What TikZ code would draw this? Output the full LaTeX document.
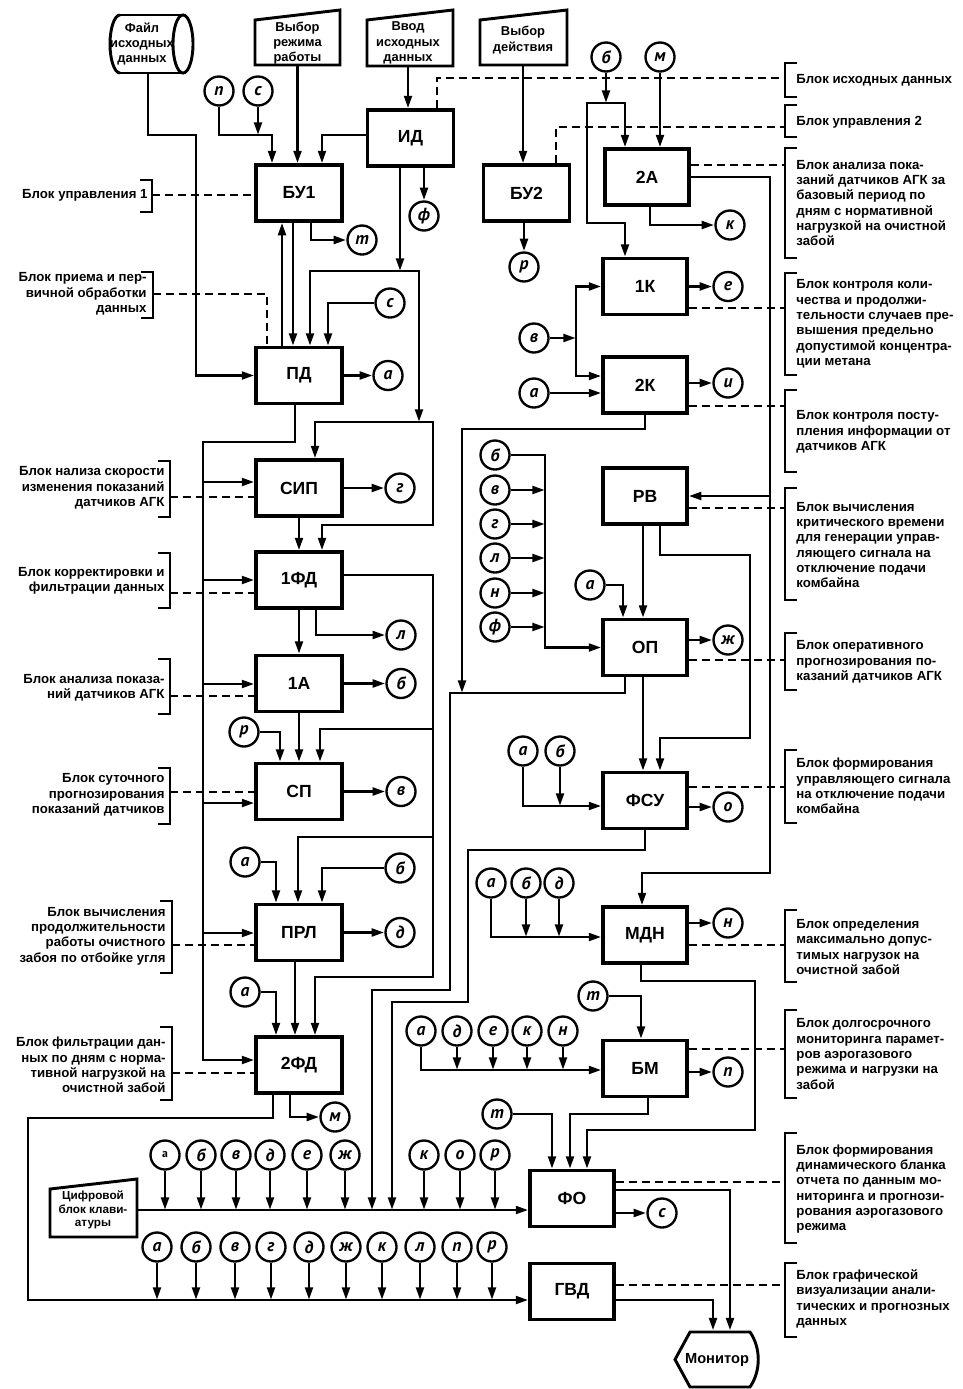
\documentclass[tikz,border=0pt]{standalone}
\usepackage{fontspec}
\setmainfont{Liberation Sans}
\newfontfamily\sigfont{PT Sans}
\usetikzlibrary{arrows.meta}

\begin{document}
\begin{tikzpicture}[x=0.3mm, y=-0.3mm, line width=2.5pt,
  arr/.style={-{Triangle[length=3.8mm, width=2.3mm]}},
  lnk/.style={line width=1.5pt, dash pattern=on 2.4mm off 1.5mm},
  brk/.style={line width=1.6pt}]
  \tikzstyle{blk} = [rectangle, draw, line width=2.7pt, minimum width=25.8mm, minimum height=16.8mm, inner sep=0pt, font=\fontsize{15}{17}\selectfont\bfseries]
  \tikzstyle{rblk} = [blk, minimum width=25.2mm]
  \tikzstyle{sig} = [circle, draw, line width=2pt, minimum size=8.7mm, inner sep=0pt, font=\sigfont\fontsize{15}{16}\selectfont\bfseries\itshape]
  \tikzstyle{txt} = [inner sep=0pt, align=center, font=\fontsize{11}{13}\selectfont\bfseries]
  \tikzstyle{lblL} = [inner sep=0pt, anchor=east, align=right, font=\fontsize{11.3}{13.1}\selectfont\bfseries]
  \tikzstyle{lblR} = [inner sep=0pt, anchor=west, align=left, font=\fontsize{11.3}{13.1}\selectfont\bfseries]

  \useasboundingbox (0,0) rectangle (963,1389);

  % input devices
  \node[txt, minimum height=17.4mm] (file) at (142,44) {Файл\\исходных\\данных};
  \draw (120,15) -- (183,15) (120,73) -- (183,73);
  \draw (120,15) arc[start angle=90, end angle=270, x radius=3mm, y radius=8.7mm];
  \draw (183,44) ellipse [x radius=3mm, y radius=8.7mm];
  \node[txt, minimum height=13.2mm] (mode) at (297.5,43) {Выбор\\режима\\работы};
  \draw (255,20) -- (340,10) -- (340,65) -- (255,65) -- cycle;
  \node[txt, minimum height=13.8mm] (input) at (408,43) {Ввод\\исходных\\данных};
  \draw (367,20) -- (453,10) -- (453,66) -- (367,66) -- cycle;
  \node[txt, minimum height=15mm] (action) at (523,40) {Выбор\\действия};
  \draw (480,20) -- (567,10) -- (567,65) -- (480,65) -- cycle;
  \node[txt, font=\fontsize{10}{11.4}\selectfont\bfseries] (keys) at (93,1210) {Цифровой\\блок клави-\\атуры};
  \draw (50,1189) -- (137,1179) -- (137,1237) -- (50,1237) -- cycle;
  \node[txt, font=\fontsize{12.5}{14}\selectfont\bfseries, minimum height=16.5mm] (mon) at (717,1359.5) {Монитор};
  \draw (690,1332) -- (750,1332) .. controls (761,1348) and (761,1371) .. (750,1387) -- (690,1387) -- (675,1359.5) -- cycle;

  % blocks
  \node[blk] (ID) at (410.5,138) {ИД};
  \node[blk] (BU1) at (299,193) {БУ1};
  \node[blk] (BU2) at (526.5,193) {БУ2};
  \node[blk] (PD) at (299,375.5) {ПД};
  \node[blk] (SIP) at (299,488) {СИП};
  \node[blk] (FD1) at (299,580) {1ФД};
  \node[blk] (A1) at (299,683.5) {1А};
  \node[blk] (SP) at (299,791.5) {СП};
  \node[blk] (PRL) at (299,932.5) {ПРЛ};
  \node[blk] (FD2) at (299,1065) {2ФД};
  \node[rblk] (A2) at (647,177) {2А};
  \node[rblk] (K1) at (645,286.5) {1К};
  \node[rblk] (K2) at (645,385) {2К};
  \node[rblk] (RV) at (645,496) {РВ};
  \node[rblk] (OP) at (645,647.5) {ОП};
  \node[rblk] (FSU) at (645,800.5) {ФСУ};
  \node[rblk] (MDN) at (645,935) {МДН};
  \node[rblk] (BM) at (645,1068.5) {БМ};
  \node[rblk] (FO) at (572,1198.5) {ФО};
  \node[rblk] (GVD) at (572,1291.5) {ГВД};

  % signals, left column
  \node[sig] (p1) at (219,91) {п};
  \node[sig] (c1) at (258,91) {с};
  \node[sig] (f1) at (424,216) {ф};
  \node[sig] (t1) at (362,240) {т};
  \node[sig] (c2) at (390,303) {с};
  \node[sig] (a1) at (388,375.5) {а};
  \node[sig] (g1) at (400,488) {г};
  \node[sig] (l1) at (401,635) {л};
  \node[sig] (b1) at (401,683.5) {б};
  \node[sig] (r1) at (244,732) {р};
  \node[sig] (v1) at (401,791.5) {в};
  \node[sig] (a2) at (245,862) {а};
  \node[sig] (b2) at (400,868) {б};
  \node[sig] (d1) at (400,932.5) {д};
  \node[sig] (a3) at (245,992) {а};
  \node[sig] (m1) at (335,1117) {м};

  % signals, right column
  \node[sig] (b3) at (606,57) {б};
  \node[sig] (m2) at (660,57) {м};
  \node[sig] (k1) at (730,225) {к};
  \node[sig] (r2) at (524,267) {р};
  \node[sig] (v2) at (534,338) {в};
  \node[sig] (a4) at (534,393) {а};
  \node[sig] (e1) at (728,286.5) {е};
  \node[sig] (i1) at (728,383) {и};
  \node[sig] (b6) at (495,455) {б};
  \node[sig] (v3) at (495,490) {в};
  \node[sig] (g2) at (495,524) {г};
  \node[sig] (l2) at (495,558) {л};
  \node[sig] (n3) at (495,593) {н};
  \node[sig] (f2) at (495,627) {ф};
  \node[sig] (a5) at (590,585) {а};
  \node[sig] (zh1) at (728,640) {ж};
  \node[sig] (a6) at (523,751) {а};
  \node[sig] (b4) at (560,751) {б};
  \node[sig] (o1) at (728,807) {о};
  \node[sig] (a7) at (491,883) {а};
  \node[sig] (b5) at (526,883) {б};
  \node[sig] (d2) at (559,883) {д};
  \node[sig] (n1) at (728,923) {н};
  \node[sig] (t2) at (593,996) {т};
  \node[sig] (a8) at (421,1031) {а};
  \node[sig] (d3) at (457,1031) {д};
  \node[sig] (e2) at (493,1031) {е};
  \node[sig] (k2) at (527,1031) {к};
  \node[sig] (n2) at (563,1031) {н};
  \node[sig] (p2) at (728,1072) {п};
  \node[sig] (t3) at (497,1114) {т};
  \node[sig] (c3) at (662,1213) {с};

  % signals, report row
  \node[sig, font=\sigfont\fontsize{10}{11}\selectfont\bfseries] (u1) at (165,1155) {а};
  \node[sig] (u2) at (201,1155) {б};
  \node[sig] (u3) at (236,1155) {в};
  \node[sig] (u4) at (270,1155) {д};
  \node[sig] (u5) at (307,1155) {е};
  \node[sig] (u6) at (345,1155) {ж};
  \node[sig] (u7) at (424,1155) {к};
  \node[sig] (u8) at (460,1155) {о};
  \node[sig] (u9) at (495,1155) {р};

  % signals, graphics row
  \node[sig] (w1) at (157,1247) {а};
  \node[sig] (w2) at (196,1247) {б};
  \node[sig] (w3) at (235,1247) {в};
  \node[sig] (w4) at (271,1247) {г};
  \node[sig] (w5) at (309,1247) {д};
  \node[sig] (w6) at (346,1247) {ж};
  \node[sig] (w7) at (382,1247) {к};
  \node[sig] (w8) at (420,1247) {л};
  \node[sig] (w9) at (457,1247) {п};
  \node[sig] (w10) at (492,1247) {р};

  \coordinate (J1) at (400,271);
  \coordinate (J2) at (419,422);
  \coordinate (Jb) at (606,103);
  \coordinate (Jv) at (576,338);

  % connectors, left column
  \draw[arr] (file.south -| 148,0) |- (196,135) |- (PD.west);
  \draw[arr] (mode) -- (mode |- BU1.north);
  \draw[arr] (input) -- (input |- ID.north);
  \draw[arr] (p1) |- (272,135) -- (272,0 |- BU1.north);
  \draw[arr] (c1) -- (c1 |- 0,135);
  \draw[arr] (ID.west |- 0,135) -| (322,0 |- BU1.north);
  \draw[arr] (ID.south -| f1) -- (f1);
  \draw[arr] (ID.south -| J1) -- (J1);
  \draw[arr] (J1) -| (310,0 |- PD.north);
  \draw[arr] (J1) -| (J2);
  \draw[arr] (J2) -| (315,0 |- SIP.north);
  \draw[arr] (J2) -- (433,422) |- (322,525) -- (322,0 |- FD1.north);
  \draw[arr] (PD.north -| 282,0) -- (282,0 |- BU1.south);
  \draw[arr] (BU1.south -| 293,0) -- (293,0 |- PD.north);
  \draw[arr] (BU1.south -| 311,0) |- (t1);
  \draw[arr] (c2) -| (328,0 |- PD.north);
  \draw[arr] (PD) -- (a1);
  \draw[arr] (PD.south -| 295,0) |- (203,442) |- (FD2.west |- 0,1060);
  \draw[arr] (203,482) -- (SIP.west |- 0,482);
  \draw[arr] (203,580) -- (FD1.west);
  \draw[arr] (203,684) -- (A1.west |- 0,684);
  \draw[arr] (203,803) -- (SP.west |- 0,803);
  \draw[arr] (203,933) -- (PRL.west |- 0,933);
  \draw[arr] (SIP) -- (g1);
  \draw[arr] (SIP) -- (FD1);
  \draw[arr] (FD1.east |- 0,575) -| (433,977) -| (315,0 |- FD2.north);
  \draw[arr] (433,729) -| (320,0 |- SP.north);
  \draw[arr] (433,837) -| (298,0 |- PRL.north);
  \draw[arr] (FD1.south -| 316,0) |- (l1);
  \draw[arr] (FD1) -- (A1);
  \draw[arr] (A1) -- (b1);
  \draw[arr] (A1) -- (SP);
  \draw[arr] (r1) -| (280,0 |- SP.north);
  \draw[arr] (SP) -- (v1);
  \draw[arr] (a2) -| (276,0 |- PRL.north);
  \draw[arr] (b2) -| (322,0 |- PRL.north);
  \draw[arr] (PRL) -- (d1);
  \draw[arr] (PRL.south -| 295,0) -- (295,0 |- FD2.north);
  \draw[arr] (a3) -| (276,0 |- FD2.north);
  \draw[arr] (FD2.south -| 290,0) |- (m1);
  \draw[arr] (FD2.south -| 273,0) |- (28,1118) |- (GVD.west |- 0,1300);

  % connectors, right column
  \draw[arr] (action) -- (action |- BU2.north);
  \draw[arr] (BU2.south -| r2) -- (r2);
  \draw[arr] (b3) -- (Jb);
  \draw[arr] (Jb) -| (625,0 |- A2.north);
  \draw[arr] (Jb) -| (587,223) -| (625,0 |- K1.north);
  \draw[arr] (m2) -- (m2 |- A2.north);
  \draw[arr] (A2.south -| 650,0) |- (k1);
  \draw[arr] (A2.east) -| (770,873) -| (642,0 |- MDN.north);
  \draw[arr] (770,496) -- (RV.east);
  \draw[arr] (v2) -- (Jv);
  \draw[arr] (Jv) |- (K1.west);
  \draw[arr] (Jv) |- (K2.west |- 0,376);
  \draw[arr] (a4) -- (a4 -| K2.west);
  \draw[arr] (K1) -- (e1);
  \draw[arr] (K2.east |- i1) -- (i1);
  \draw[arr] (K2.south) |- (462,429) -- (462,693);
  \draw[arr] (b6) -| (545,0 |- OP.west) -- (OP.west);
  \draw[arr] (v3) -- (v3 -| 545,0);
  \draw[arr] (g2) -- (g2 -| 545,0);
  \draw[arr] (l2) -- (l2 -| 545,0);
  \draw[arr] (n3) -- (n3 -| 545,0);
  \draw[arr] (f2) -- (f2 -| 545,0);
  \draw[arr] (a5) -| (623,0 |- OP.north);
  \draw[arr] (RV.south -| 643,0) -- (643,0 |- OP.north);
  \draw[arr] (RV.south -| 660,0) |- (750,555) |- (660,738) -- (660,0 |- FSU.north);
  \draw[arr] (OP.east |- zh1) -- (zh1);
  \draw[arr] (OP.south -| 643,0) -- (643,0 |- FSU.north);
  \draw[arr] (OP.south -| 625,0) |- (450,693) |- (372,990) -- (372,1210);
  \draw[arr] (a6) |- (FSU.west |- 0,806);
  \draw[arr] (b4) -- (b4 |- 0,806);
  \draw[arr] (FSU.east |- o1) -- (o1);
  \draw[arr] (FSU.south) |- (468,850) |- (392,1002) -- (392,1210);
  \draw[arr] (a7) |- (MDN.west |- 0,937);
  \draw[arr] (b5) -- (b5 |- 0,937);
  \draw[arr] (d2) -- (d2 |- 0,937);
  \draw[arr] (MDN.east |- n1) -- (n1);
  \draw[arr] (MDN.south -| 641,0) |- (755,981) |- (587,1130) -- (587,0 |- FO.north);
  \draw[arr] (t2) -| (641,0 |- BM.north);
  \draw[arr] (a8) |- (BM.west |- 0,1070);
  \draw[arr] (d3) -- (d3 |- 0,1070);
  \draw[arr] (e2) -- (e2 |- 0,1070);
  \draw[arr] (k2) -- (k2 |- 0,1070);
  \draw[arr] (n2) -- (n2 |- 0,1070);
  \draw[arr] (BM.east |- p2) -- (p2);
  \draw[arr] (BM.south -| 648,0) |- (570,1114) -- (570,0 |- FO.north);
  \draw[arr] (t3) -| (552,0 |- FO.north);

  % connectors, output
  \draw[arr] (keys.east -| 137,0) -- (keys.east -| FO.west);
  \draw[arr] (u1) -- (u1 |- 0,1210);
  \draw[arr] (u2) -- (u2 |- 0,1210);
  \draw[arr] (u3) -- (u3 |- 0,1210);
  \draw[arr] (u4) -- (u4 |- 0,1210);
  \draw[arr] (u5) -- (u5 |- 0,1210);
  \draw[arr] (u6) -- (u6 |- 0,1210);
  \draw[arr] (u7) -- (u7 |- 0,1210);
  \draw[arr] (u8) -- (u8 |- 0,1210);
  \draw[arr] (u9) -- (u9 |- 0,1210);
  \draw[arr] (w1) -- (w1 |- 0,1300);
  \draw[arr] (w2) -- (w2 |- 0,1300);
  \draw[arr] (w3) -- (w3 |- 0,1300);
  \draw[arr] (w4) -- (w4 |- 0,1300);
  \draw[arr] (w5) -- (w5 |- 0,1300);
  \draw[arr] (w6) -- (w6 |- 0,1300);
  \draw[arr] (w7) -- (w7 |- 0,1300);
  \draw[arr] (w8) -- (w8 |- 0,1300);
  \draw[arr] (w9) -- (w9 |- 0,1300);
  \draw[arr] (w10) -- (w10 |- 0,1300);
  \draw[arr] (FO.east |- 0,1190) -| (730,0 |- mon.north);
  \draw[arr] (FO.east |- c3) -- (c3);
  \draw[arr] (GVD.east |- 0,1300) -| (713,0 |- mon.north);

  % captions, left
  \node[lblL] (nBU1) at (149,195) {Блок управления 1};
  \node[lblL] (nPD) at (148,294) {Блок приема и пер-\\вичной обработки\\данных};
  \node[lblL] (nSIP) at (166,488) {Блок нализа скорости\\изменения показаний\\датчиков АГК};
  \node[lblL] (nFD1) at (166,581) {Блок корректировки и\\фильтрации данных};
  \node[lblL] (nA1) at (166,688) {Блок анализа показа-\\ний датчиков АГК};
  \node[lblL] (nSP) at (166,795) {Блок суточного\\прогнозирования\\показаний датчиков};
  \node[lblL] (nPRL) at (167,936) {Блок вычисления\\продолжительности\\работы очистного\\забоя  по отбойке угля};
  \node[lblL] (nFD2) at (167,1065) {Блок фильтрации дан-\\ных по дням с норма-\\тивной нагрузкой на\\очистной забой};
  \draw[brk] (140,180) -| (152,212) -- (140,212);
  \draw[brk] (141,272) -| (153,318) -- (141,318);
  \draw[brk] (158,461) -| (170,517) -- (158,517);
  \draw[brk] (158,553) -| (170,608) -- (158,608);
  \draw[brk] (158,659) -| (170,714) -- (158,714);
  \draw[brk] (158,768) -| (170,824) -- (158,824);
  \draw[brk] (160,901) -| (172,973) -- (160,973);
  \draw[brk] (160,1027) -| (172,1100) -- (160,1100);
  \draw[lnk] (152,195) -- (BU1.west |- 0,195);
  \draw[lnk] (153,294) -| (267,0 |- PD.north);
  \draw[lnk] (170,497) -- (SIP.west |- 0,497);
  \draw[lnk] (170,593) -- (FD1.west |- 0,593);
  \draw[lnk] (170,696) -- (A1.west |- 0,696);
  \draw[lnk] (170,792) -- (SP.west |- 0,792);
  \draw[lnk] (172,945) -- (PRL.west |- 0,945);
  \draw[lnk] (172,1073) -- (FD2.west |- 0,1073);

  % captions, right
  \node[lblR] (nID) at (795,80) {Блок  исходных данных};
  \node[lblR] (nBU2) at (795,122) {Блок  управления 2};
  \node[lblR] (nA2) at (795,203) {Блок анализа пока-\\заний датчиков АГК за\\базовый период по\\дням с нормативной\\нагрузкой на очистной\\забой};
  \node[lblR] (nK1) at (795,324) {Блок  контроля коли-\\чества  и продолжи-\\тельности случаев пре-\\вышения предельно\\допустимой  концентра-\\ции метана};
  \node[lblR] (nK2) at (795,432) {Блок  контроля посту-\\пления информации от\\датчиков АГК};
  \node[lblR] (nRV) at (795,545) {Блок  вычисления\\критического времени\\для генерации управ-\\ляющего сигнала на\\отключение подачи\\комбайна};
  \node[lblR] (nOP) at (795,662) {Блок  оперативного\\прогнозирования по-\\казаний датчиков АГК};
  \node[lblR] (nFSU) at (795,786) {Блок  формирования\\управляющего сигнала\\на отключение подачи\\комбайна};
  \node[lblR] (nMDN) at (795,947) {Блок  определения\\максимально допус-\\тимых нагрузок на\\очистной забой};
  \node[lblR] (nBM) at (795,1054) {Блок долгосрочного\\мониторинга парамет-\\ров аэрогазового\\режима и нагрузки на\\забой};
  \node[lblR] (nFO) at (795,1189) {Блок  формирования\\динамического бланка\\отчета по данным мо-\\ниторинга и прогнози-\\рования аэрогазового\\режима};
  \node[lblR] (nGVD) at (795,1299) {Блок  графической\\визуализации анали-\\тических и прогнозных\\данных};
  \draw[brk] (797,63) -| (785,97) -- (797,97);
  \draw[brk] (797,105) -| (785,137) -- (797,137);
  \draw[brk] (797,148) -| (785,258) -- (797,258);
  \draw[brk] (797,273) -| (785,375) -- (797,375);
  \draw[brk] (797,390) -| (785,472) -- (797,472);
  \draw[brk] (797,488) -| (785,600) -- (797,600);
  \draw[brk] (797,633) -| (785,690) -- (797,690);
  \draw[brk] (797,750) -| (785,823) -- (797,823);
  \draw[brk] (797,910) -| (785,982) -- (797,982);
  \draw[brk] (797,1010) -| (785,1098) -- (797,1098);
  \draw[brk] (797,1133) -| (785,1243) -- (797,1243);
  \draw[brk] (797,1263) -| (785,1337) -- (797,1337);
  \draw[lnk] (ID.north -| 437,0) |- (785,78);
  \draw[lnk] (BU2.north -| 556,0) |- (785,127);
  \draw[lnk] (A2.east |- 0,165) -- (785,165);
  \draw[lnk] (K1.east |- 0,308) -- (785,308);
  \draw[lnk] (K2.east |- 0,406) -- (785,406);
  \draw[lnk] (RV.east |- 0,508) -- (785,508);
  \draw[lnk] (OP.east |- 0,660) -- (785,660);
  \draw[lnk] (FSU.east |- 0,787) -- (785,787);
  \draw[lnk] (MDN.east |- 0,945) -- (785,945);
  \draw[lnk] (BM.east |- 0,1049) -- (785,1049);
  \draw[lnk] (FO.east |- 0,1182) -- (785,1182);
  \draw[lnk] (GVD.east |- 0,1285) -- (785,1285);
\end{tikzpicture}
\end{document}
